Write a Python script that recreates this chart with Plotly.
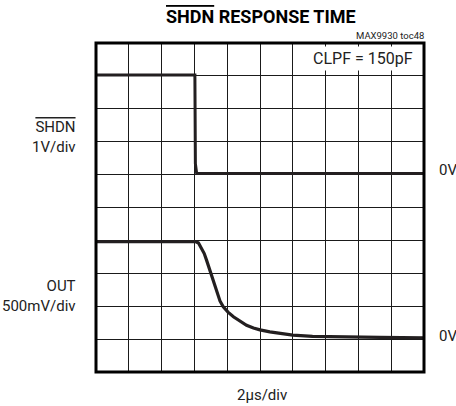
import plotly.graph_objects as go

# Time base: 2 us/div, 10 divisions
time_span_us = 20.0
us_per_div = 2.0

# SHDN input (1 V/div)
shdn_t_us = [0.0, 6.03, 6.06, 6.14, 20.0]
shdn_v = [3.0, 3.0, 0.3, 0.0, 0.0]
shdn_v_per_div = 1.0

# OUT response (500 mV/div)
out_t_us = [0.0, 6.1, 6.25, 6.44, 6.6, 6.74, 6.9, 7.06, 7.2, 7.36, 7.56,
            7.76, 8.05, 8.38, 8.78, 9.18, 9.6, 10.0, 10.6, 11.2, 12.0,
            13.2, 15.0, 17.3, 20.0]
out_v = [1.48, 1.48, 1.46, 1.38, 1.30, 1.20, 1.08, 0.95, 0.83, 0.70, 0.58,
         0.49, 0.41, 0.34, 0.27, 0.21, 0.17, 0.14, 0.11, 0.09, 0.06,
         0.04, 0.03, 0.025, 0.02]
out_v_per_div = 0.5

# Screen placement of each channel's 0 V level (in divisions from bottom)
SHDN_ZERO = 6.03
OUT_ZERO = 1.0

FONT = "Roboto, Liberation Sans, sans-serif"
TRACE = "#231f20"
TEXT = "#222222"

fig = go.Figure()
fig.add_trace(go.Scatter(
    x=shdn_t_us, y=[SHDN_ZERO + v / shdn_v_per_div for v in shdn_v],
    mode="lines", line=dict(color=TRACE, width=3), hoverinfo="skip"))
fig.add_trace(go.Scatter(
    x=out_t_us, y=[OUT_ZERO + v / out_v_per_div for v in out_v],
    mode="lines", line=dict(color=TRACE, width=3.2), hoverinfo="skip"))

axis_common = dict(showticklabels=False, ticks="", zeroline=False,
                   showgrid=True, gridcolor="#1a1a1a", gridwidth=1,
                   showline=False, fixedrange=True)
fig.update_xaxes(range=[0, time_span_us], dtick=us_per_div, **axis_common)
fig.update_yaxes(range=[0, 10], dtick=1, **axis_common)

# Heavy frame around the graticule
fig.add_shape(type="rect", xref="paper", yref="paper", x0=0, x1=1, y0=0, y1=1,
              line=dict(color="#000000", width=3), layer="above")


def label(text, x, y, size, xanchor="center", align="center", **kw):
    return dict(text=text, xref="paper", yref="paper", x=x, y=y,
                xanchor=xanchor, yanchor="middle", align=align, showarrow=False,
                font=dict(family=FONT, size=size, color=kw.pop("color", TEXT)), **kw)


ann = [
    label('<b><span style="text-decoration:overline">SHDN</span> RESPONSE TIME</b>',
          0.503, 1.08, 18, color="#000000"),
    label("MAX9930 toc48", 1.006, 1.024, 9.5, xanchor="right"),
    label("CLPF = 150pF", 0.976, 0.954, 16, xanchor="right",
          bgcolor="#ffffff", borderpad=2),
    label('<span style="text-decoration:overline">SHDN</span><br>1V/div',
          0, SHDN_ZERO / 10 + 0.11, 15, xanchor="right", align="right", xshift=-18),
    label("OUT<br>500mV/div", 0, OUT_ZERO / 10 + 0.131, 15,
          xanchor="right", align="right", xshift=-18),
    label("0V", 1.0, SHDN_ZERO / 10 + 0.011, 15, xanchor="left", xshift=13),
    label("0V", 1.0, OUT_ZERO / 10 + 0.009, 15, xanchor="left", xshift=13),
    label("2\u00b5s/div", 0.506, -0.07, 15),
]

fig.update_layout(
    width=456, height=406,
    margin=dict(l=96, r=32, t=43, b=34),
    paper_bgcolor="#ffffff", plot_bgcolor="#ffffff",
    showlegend=False, annotations=ann,
)

fig.write_html("out.html", config={"displayModeBar": False})
